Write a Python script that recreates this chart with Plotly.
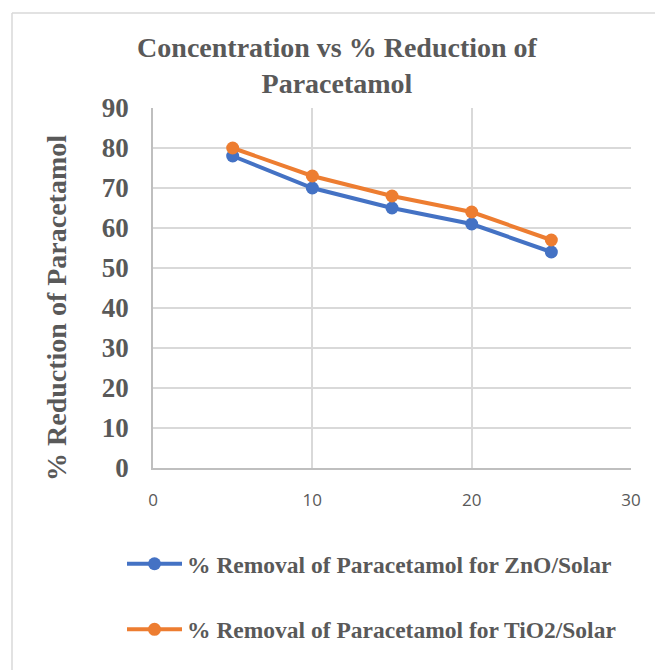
import plotly.graph_objects as go

concentration = [5, 10, 15, 20, 25]
zno_removal = [78, 70, 65, 61, 54]
tio2_removal = [80, 73, 68, 64, 57]
series_names = ["% Removal of Paracetamol for ZnO/Solar",
                "% Removal of Paracetamol for TiO2/Solar"]
title_text = "Concentration vs % Reduction of<br>Paracetamol"
y_title = "% Reduction of Paracetamol"

W, H = 655, 670
L, R, T, B = 153, 24, 108, 202
pw, ph = W - L - R, H - T - B

def px_to_paper_x(px):
    return (px - L) / pw

def px_to_paper_y(py):
    return (H - B - py) / ph

fig = go.Figure()
fig.add_trace(go.Scatter(x=concentration, y=zno_removal, mode="lines+markers",
                         name=series_names[0], legendgroup="a",
                         line=dict(color="#4472C4", width=4),
                         marker=dict(size=13, color="#4472C4")))
fig.add_trace(go.Scatter(x=concentration, y=tio2_removal, mode="lines+markers",
                         name=series_names[1], legendgroup="b",
                         line=dict(color="#ED7D31", width=4),
                         marker=dict(size=13, color="#ED7D31")))

serif = "Liberation Serif, Times New Roman, serif"
fig.update_layout(
    width=W, height=H,
    margin=dict(l=L, r=R, t=T, b=B),
    paper_bgcolor="white", plot_bgcolor="white",
    title=dict(text=title_text, x=px_to_paper_x(337), xref="paper", xanchor="center",
               y=1 - 57 / H, yanchor="middle",
               font=dict(family=serif, size=28, color="#595959", weight="bold")),
    xaxis=dict(range=[0, 30], dtick=10, showgrid=True, gridcolor="#d9d9d9", gridwidth=1.5,
               zeroline=False, showline=True, linecolor="#bfbfbf", linewidth=1.5,
               ticks="", ticklabelstandoff=16,
               tickfont=dict(family="Open Sans, Liberation Sans, sans-serif", size=17, color="#595959")),
    yaxis=dict(range=[0, 90], dtick=10, showgrid=True, gridcolor="#d9d9d9", gridwidth=1.5,
               zeroline=False, showline=True, linecolor="#bfbfbf", linewidth=1.5,
               ticks="", ticklabelstandoff=17,
               tickfont=dict(family=serif, size=27, color="#595959", weight="bold")),
    annotations=[dict(text=y_title, textangle=-90, xref="paper", yref="paper",
                      x=px_to_paper_x(56), y=px_to_paper_y(308),
                      xanchor="center", yanchor="middle", showarrow=False,
                      font=dict(family=serif, size=28, color="#595959", weight="bold"))],
    legend=dict(orientation="v", x=px_to_paper_x(122), xanchor="left",
                y=px_to_paper_y(542), yanchor="top",
                traceorder="grouped", tracegroupgap=32, itemwidth=55,
                font=dict(family=serif, size=23.5, color="#595959", weight="bold"),
                bgcolor="rgba(0,0,0,0)"),
    showlegend=True,
    shapes=[
        dict(type="line", xref="paper", yref="paper",
             x0=px_to_paper_x(12), x1=px_to_paper_x(660),
             y0=px_to_paper_y(13), y1=px_to_paper_y(13),
             line=dict(color="#d9d9d9", width=1.5)),
        dict(type="line", xref="paper", yref="paper",
             x0=px_to_paper_x(12), x1=px_to_paper_x(12),
             y0=px_to_paper_y(13), y1=px_to_paper_y(675),
             line=dict(color="#d9d9d9", width=1.5)),
    ],
)

fig.write_html("out.html")
